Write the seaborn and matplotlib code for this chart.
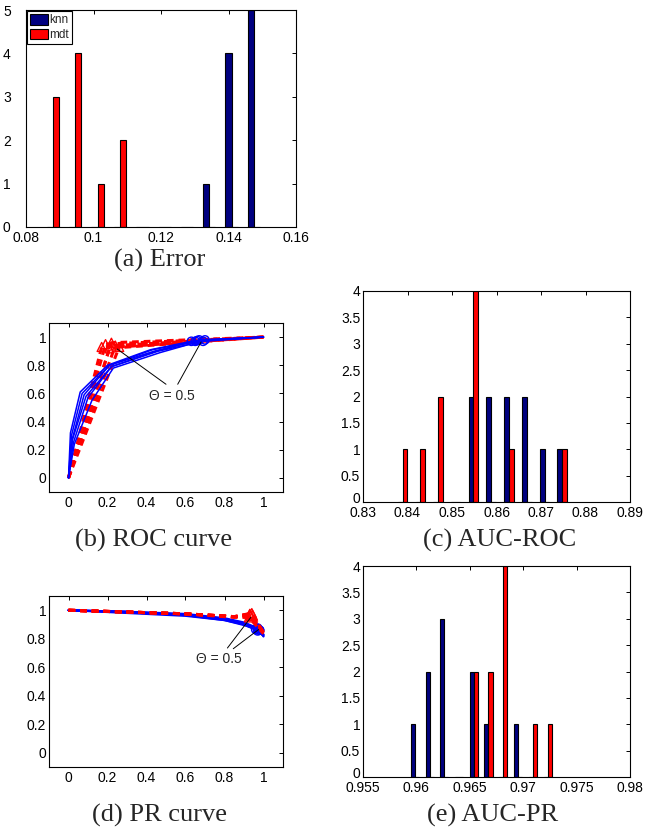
import pandas as pd
import matplotlib
matplotlib.use("Agg")
import matplotlib.pyplot as plt
import matplotlib.transforms as mtransforms
import seaborn as sns
from matplotlib.patches import Patch

# colours (MATLAB defaults)
KNN_BAR = '#000080'
MDT_BAR = '#ff0000'
KNN_LINE = '#0000ff'
MDT_LINE = '#ff0000'

# (a) Error histogram
err_centers = [0.0880, 0.0946, 0.1012, 0.1079, 0.1145, 0.1211, 0.1277, 0.1343, 0.1409, 0.1476]
err_knn = [0, 0, 0, 0, 0, 0, 0, 1, 4, 5]
err_mdt = [3, 4, 1, 2, 0, 0, 0, 0, 0, 0]
err_xticks = [0.08, 0.1, 0.12, 0.14, 0.16]
err_yticks = [0, 1, 2, 3, 4, 5]

# (c) AUC-ROC histogram
aucroc_centers = [0.8389, 0.8429, 0.8468, 0.8508, 0.8548, 0.8588, 0.8628, 0.8668, 0.8708, 0.8747]
aucroc_knn = [0, 0, 0, 0, 2, 2, 2, 2, 1, 1]
aucroc_mdt = [1, 1, 2, 0, 4, 0, 1, 0, 0, 1]
aucroc_xticks = [0.83, 0.84, 0.85, 0.86, 0.87, 0.88, 0.89]

# (e) AUC-PR histogram
aucpr_centers = [0.95983, 0.96123, 0.96261, 0.96398, 0.96535, 0.96675, 0.96812, 0.96953, 0.97093, 0.97230]
aucpr_knn = [1, 2, 3, 0, 2, 1, 0, 1, 0, 0]
aucpr_mdt = [0, 0, 0, 0, 2, 2, 4, 0, 1, 1]
aucpr_xticks = [0.955, 0.96, 0.965, 0.97, 0.975, 0.98]

auc_yticks = [0, 0.5, 1, 1.5, 2, 2.5, 3, 3.5, 4]
curve_ticks = [0, 0.2, 0.4, 0.6, 0.8, 1]

# (b) ROC curves, one list per run; the 6th point (index 5) is theta = 0.5
knn_roc_fpr = [
    [0, 0.010, 0.06, 0.20, 0.42, 0.63, 1],
    [0, 0.015, 0.07, 0.21, 0.43, 0.65, 1],
    [0, 0.020, 0.08, 0.21, 0.44, 0.66, 1],
    [0, 0.020, 0.09, 0.22, 0.45, 0.67, 1],
    [0, 0.025, 0.10, 0.22, 0.46, 0.69, 1],
    [0, 0.030, 0.12, 0.23, 0.47, 0.70, 1],
]
knn_roc_tpr = [
    [0, 0.32, 0.61, 0.80, 0.91, 0.970, 1],
    [0, 0.30, 0.60, 0.80, 0.91, 0.970, 1],
    [0, 0.28, 0.59, 0.80, 0.90, 0.975, 1],
    [0, 0.27, 0.58, 0.79, 0.90, 0.980, 1],
    [0, 0.25, 0.57, 0.79, 0.90, 0.970, 1],
    [0, 0.24, 0.55, 0.78, 0.89, 0.980, 1],
]
# mdt: point index 1 is theta = 0.5
mdt_roc_fpr = [
    [0, 0.17, 1],
    [0, 0.19, 1],
    [0, 0.21, 1],
    [0, 0.22, 1],
    [0, 0.24, 1],
    [0, 0.26, 1],
]
mdt_roc_tpr = [
    [0, 0.93, 1],
    [0, 0.95, 1],
    [0, 0.92, 1],
    [0, 0.96, 1],
    [0, 0.94, 1],
    [0, 0.93, 1],
]

# (d) PR curves; knn theta point index 5, mdt theta point index 3
knn_pr_rec = [
    [0, 0.3, 0.6, 0.8, 0.9, 0.97, 1],
    [0, 0.3, 0.6, 0.8, 0.9, 0.97, 1],
    [0, 0.3, 0.6, 0.8, 0.9, 0.96, 1],
    [0, 0.3, 0.6, 0.8, 0.9, 0.98, 1],
    [0, 0.3, 0.6, 0.8, 0.9, 0.97, 1],
    [0, 0.3, 0.6, 0.8, 0.9, 0.98, 1],
]
knn_pr_prec = [
    [1, 0.990, 0.975, 0.945, 0.915, 0.875, 0.830],
    [1, 0.990, 0.970, 0.940, 0.910, 0.870, 0.825],
    [1, 0.985, 0.970, 0.935, 0.905, 0.865, 0.820],
    [1, 0.990, 0.965, 0.935, 0.900, 0.860, 0.830],
    [1, 0.985, 0.965, 0.930, 0.900, 0.855, 0.820],
    [1, 0.980, 0.960, 0.930, 0.895, 0.860, 0.815],
]
mdt_pr_rec = [
    [0, 0.6, 0.85, 0.930, 1],
    [0, 0.6, 0.85, 0.935, 1],
    [0, 0.6, 0.85, 0.940, 1],
    [0, 0.6, 0.85, 0.925, 1],
    [0, 0.6, 0.85, 0.930, 1],
    [0, 0.6, 0.85, 0.945, 1],
]
mdt_pr_prec = [
    [1, 0.975, 0.955, 0.970, 0.840],
    [1, 0.975, 0.955, 0.960, 0.845],
    [1, 0.975, 0.955, 0.980, 0.840],
    [1, 0.975, 0.950, 0.950, 0.835],
    [1, 0.975, 0.955, 0.975, 0.840],
    [1, 0.975, 0.955, 0.965, 0.845],
]

sns.set_style("white")
plt.rcParams['font.family'] = ['Liberation Sans', 'DejaVu Sans']

fig = plt.figure(figsize=(6.51, 8.27), dpi=100)
W, H = 651, 827


def px_axes(x0, y0, x1, y1):
    # axes from pixel box (top-left origin)
    return fig.add_axes([x0 / W, 1 - y1 / H, (x1 - x0) / W, (y1 - y0) / H])


def style_axes(ax, ypad=2):
    for sp in ax.spines.values():
        sp.set_visible(True)
        sp.set_color('black')
        sp.set_linewidth(0.8)
    ax.tick_params(direction='in', length=3, width=0.7, top=True, right=True,
                   labelsize=10, colors='black')
    ax.tick_params(axis='y', pad=ypad)
    ax.tick_params(axis='x', pad=3)
    ax.set_xlabel('')
    ax.set_ylabel('')


def hist_panel(ax, centers, knn, mdt, xticks, yticks, ypad=2):
    n = len(centers)
    df = pd.DataFrame({'center': centers * 2,
                       'count': knn + mdt,
                       'method': ['knn'] * n + ['mdt'] * n})
    sns.barplot(data=df, x='center', y='count', hue='method', native_scale=True,
                palette={'knn': KNN_BAR, 'mdt': MDT_BAR}, hue_order=['knn', 'mdt'],
                width=0.55, dodge=True, errorbar=None, saturation=1,
                edgecolor='black', linewidth=0.8, legend=False, ax=ax)
    ax.set_xlim(xticks[0], xticks[-1])
    ax.set_ylim(yticks[0], yticks[-1])
    ax.set_xticks(xticks)
    ax.set_xticklabels(['%g' % t for t in xticks])
    ax.set_yticks(yticks)
    ax.set_yticklabels(['%g' % t for t in yticks])
    style_axes(ax, ypad)


def lift_zero_label(ax, pts=3):
    # nudge the bottom y label up so it does not sit on the first x label
    lab = ax.get_yticklabels()[0]
    shift = mtransforms.ScaledTranslation(0, pts / 72, fig.dpi_scale_trans)
    lab.set_transform(lab.get_transform() + shift)


def curves_df(xs_list, ys_list):
    rows = []
    for run, (xs, ys) in enumerate(zip(xs_list, ys_list)):
        for x, y in zip(xs, ys):
            rows.append({'run': run, 'x': x, 'y': y})
    return pd.DataFrame(rows)


def curve_panel(ax, knn_x, knn_y, knn_i, mdt_x, mdt_y, mdt_i, red_on_top, knn_lw=1.1):
    knn_df = curves_df(knn_x, knn_y)
    mdt_df = curves_df(mdt_x, mdt_y)
    zk, zm = (2, 3) if red_on_top else (3, 2)
    sns.lineplot(data=knn_df, x='x', y='y', units='run', estimator=None, sort=False,
                 color=KNN_LINE, lw=knn_lw, ax=ax, zorder=zk)
    sns.lineplot(data=mdt_df, x='x', y='y', units='run', estimator=None, sort=False,
                 color=MDT_LINE, lw=2.2, linestyle=(0, (2.2, 1.6)), ax=ax, zorder=zm)
    ax.scatter([r[knn_i] for r in knn_x], [r[knn_i] for r in knn_y], marker='o', s=36,
               facecolors='none', edgecolors=KNN_LINE, linewidths=1, zorder=zk + 0.5)
    ax.scatter([r[mdt_i] for r in mdt_x], [r[mdt_i] for r in mdt_y], marker='^', s=42,
               facecolors='none', edgecolors=MDT_LINE, linewidths=1, zorder=zm + 0.5)
    ax.set_xlim(-0.1, 1.1)
    ax.set_ylim(-0.1, 1.1)
    ax.set_xticks(curve_ticks)
    ax.set_xticklabels(['%g' % t for t in curve_ticks])
    ax.set_yticks(curve_ticks)
    ax.set_yticklabels(['%g' % t for t in curve_ticks])
    style_axes(ax)


def theta_note(ax, text_xy, starts, targets):
    ax.text(text_xy[0], text_xy[1], '\u0398 = 0.5', ha='center', va='center',
            fontsize=10, zorder=6)
    for s, t in zip(starts, targets):
        ax.annotate('', xy=t, xytext=s,
                    arrowprops=dict(arrowstyle='-', color='black', lw=0.7,
                                    shrinkA=0, shrinkB=0), zorder=6)


# (a)
ax_a = px_axes(26, 10, 296, 227)
hist_panel(ax_a, err_centers, err_knn, err_mdt, err_xticks, err_yticks, ypad=11)
handles = [Patch(facecolor=KNN_BAR, edgecolor='black', lw=0.8, label='knn'),
           Patch(facecolor=MDT_BAR, edgecolor='black', lw=0.8, label='mdt')]
leg = ax_a.legend(handles=handles, loc='upper left', fontsize=8.5, frameon=True,
                  fancybox=False, edgecolor='black', framealpha=1, borderaxespad=0.1,
                  handlelength=1.5, handleheight=1.0, handletextpad=0.15,
                  borderpad=0.25, labelspacing=0.2)
leg.get_frame().set_linewidth(0.8)

# (b)
ax_b = px_axes(49, 323, 283, 492)
curve_panel(ax_b, knn_roc_fpr, knn_roc_tpr, 5, mdt_roc_fpr, mdt_roc_tpr, 1, red_on_top=False)
theta_note(ax_b, (0.53, 0.58), [(0.50, 0.665), (0.56, 0.665)], [(0.25, 0.915), (0.68, 0.965)])

# (c)
ax_c = px_axes(363, 291, 630, 502)
hist_panel(ax_c, aucroc_centers, aucroc_knn, aucroc_mdt, aucroc_xticks, auc_yticks)
lift_zero_label(ax_c)

# (d)
ax_d = px_axes(49, 596, 283, 767)
curve_panel(ax_d, knn_pr_rec, knn_pr_prec, 5, mdt_pr_rec, mdt_pr_prec, 3, red_on_top=True,
            knn_lw=1.4)
theta_note(ax_d, (0.77, 0.66), [(0.815, 0.735), (0.845, 0.73)], [(0.935, 0.95), (0.975, 0.865)])

# (e)
ax_e = px_axes(363, 566, 630, 777)
hist_panel(ax_e, aucpr_centers, aucpr_knn, aucpr_mdt, aucpr_xticks, auc_yticks)
lift_zero_label(ax_e)

# captions
captions = [('(a) Error', 160, 267), ('(b) ROC curve', 154, 547), ('(c) AUC-ROC', 500, 547),
            ('(d) PR curve', 160, 822), ('(e) AUC-PR', 493, 822)]
for txt, cx, by in captions:
    fig.text(cx / W, 1 - by / H, txt, ha='center', va='baseline',
             family=['Liberation Serif', 'DejaVu Serif'], fontsize=19)

fig.savefig('out.png', dpi=100)
